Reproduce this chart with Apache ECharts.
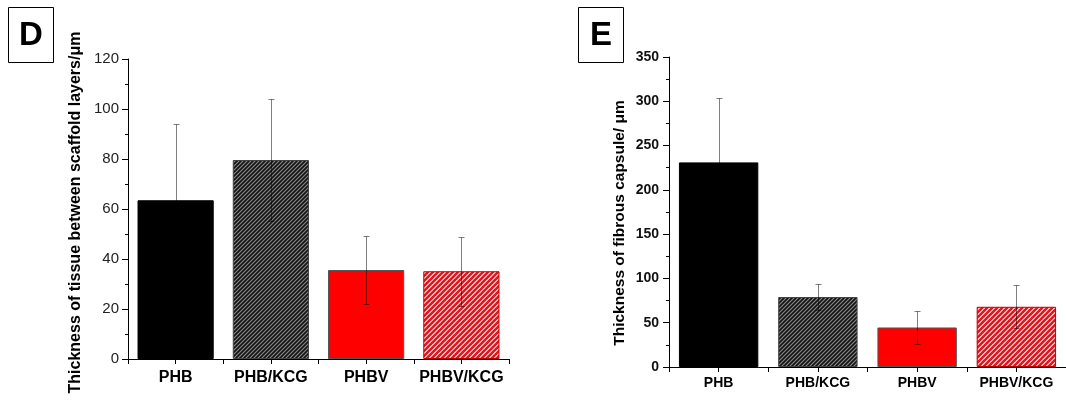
<!DOCTYPE html>
<html>
<head>
<meta charset="utf-8">
<script src="https://cdn.jsdelivr.net/npm/echarts@6/dist/echarts.min.js"></script>
<style>
html,body{margin:0;padding:0;background:#fff;}
#c{width:1066px;height:403px;}
</style>
</head>
<body>
<div id="c"></div>
<script>
// ---- data ----
const categories = ['PHB', 'PHB/KCG', 'PHBV', 'PHBV/KCG'];
const tissueMean = [63.5, 79.6, 35.6, 35.1];
const tissueSD = [30.4, 24.5, 13.7, 13.7];
const capsuleMean = [231, 79, 44.6, 68];
const capsuleSD = [73, 15, 18.5, 24.5];
const tissueTicks = { min: 0, max: 120, interval: 20 };
const capsuleTicks = { min: 0, max: 350, interval: 50 };

// ---- styles ----
function hatch(bg, fg, p, w) {
  const c = document.createElement('canvas');
  c.width = p; c.height = p;
  const ctx = c.getContext('2d');
  ctx.fillStyle = bg; ctx.fillRect(0, 0, p, p);
  ctx.strokeStyle = fg; ctx.lineWidth = w;
  ctx.beginPath();
  ctx.moveTo(-1, 1); ctx.lineTo(1, -1);
  ctx.moveTo(0, p); ctx.lineTo(p, 0);
  ctx.moveTo(p - 1, p + 1); ctx.lineTo(p + 1, p - 1);
  ctx.stroke();
  return { image: c, repeat: 'repeat' };
}
const fills = [
  { color: '#000000', borderColor: '#000', borderWidth: 1 },
  { color: hatch('#151515', '#8a8a8a', 4, 1.1), borderColor: '#444', borderWidth: 1 },
  { color: '#ff0000', borderColor: '#555', borderWidth: 1 },
  { color: hatch('#ffffff', '#e8141c', 5, 2.6), borderColor: '#b00', borderWidth: 1 }
];
const FONT = 'Liberation Sans, Arial, sans-serif';

function barData(vals) {
  return vals.map((v, i) => ({ value: v, itemStyle: fills[i] }));
}
function errData(mean, sd) {
  return mean.map((m, i) => [i, m - sd[i], m + sd[i]]);
}
function renderErr(params, api) {
  const x = api.value(0);
  const lo = api.coord([x, api.value(1)]);
  const hi = api.coord([x, api.value(2)]);
  const cx = Math.round(lo[0]) + 0.5;
  const yl = Math.round(lo[1]) + 0.5, yh = Math.round(hi[1]) + 0.5;
  const st = { stroke: 'rgba(0,0,0,0.5)', lineWidth: 1 };
  return {
    type: 'group',
    children: [
      { type: 'line', shape: { x1: cx, y1: yl, x2: cx, y2: yh }, style: st },
      { type: 'line', shape: { x1: cx - 3, y1: yh, x2: cx + 3, y2: yh }, style: st },
      { type: 'line', shape: { x1: cx - 3, y1: yl, x2: cx + 3, y2: yl }, style: st }
    ]
  };
}

function xAxes(gi, fs, margin) {
  return [
    {
      type: 'category', gridIndex: gi, data: categories,
      axisLine: { lineStyle: { color: '#000', width: 1 } },
      axisTick: { show: true, interval: 0, inside: false, length: 5, lineStyle: { color: '#000' } },
      axisLabel: { interval: 0, color: '#000', fontWeight: 'bold', fontSize: fs, fontFamily: FONT, margin: margin },
      splitLine: { show: false }
    },
    {
      type: 'category', gridIndex: gi, data: categories, position: 'bottom',
      axisLine: { show: false },
      axisTick: { show: true, interval: 0, alignWithLabel: true, length: 5, lineStyle: { color: '#000' } },
      axisLabel: { show: false },
      splitLine: { show: false }
    }
  ];
}

const option = {
  animation: false,
  backgroundColor: '#fff',
  grid: [
    { left: 128, top: 59, width: 381, height: 300 },
    { left: 669, top: 57, width: 400, height: 310 }
  ],
  xAxis: [...xAxes(0, 16, 11), ...xAxes(1, 14, 9)],
  yAxis: [
    {
      type: 'value', gridIndex: 0, ...tissueTicks,
      name: 'Thickness of tissue between scaffold layers/\u03bcm',
      nameLocation: 'middle', nameRotate: 90, nameGap: 44,
      nameTextStyle: { color: '#000', fontWeight: 'bold', fontSize: 16, fontFamily: FONT, padding: [0, 7, 0, 0] },
      axisLine: { show: true, lineStyle: { color: '#000', width: 1 } },
      axisTick: { show: true, length: 6, lineStyle: { color: '#000' } },
      minorTick: { show: true, splitNumber: 2, length: 3, lineStyle: { color: '#000' } },
      axisLabel: { color: '#222', fontSize: 15, fontFamily: FONT, margin: 9 },
      splitLine: { show: false }
    },
    {
      type: 'value', gridIndex: 1, ...capsuleTicks,
      name: 'Thickness of fibrous capsule/ \u03bcm',
      nameLocation: 'middle', nameRotate: 90, nameGap: 41,
      nameTextStyle: { color: '#000', fontWeight: 'bold', fontSize: 15.5, fontFamily: FONT, padding: [0, 22, 0, 0] },
      axisLine: { show: true, lineStyle: { color: '#000', width: 1 } },
      axisTick: { show: true, length: 6, lineStyle: { color: '#000' } },
      minorTick: { show: true, splitNumber: 2, length: 3, lineStyle: { color: '#000' } },
      axisLabel: { color: '#111', fontWeight: 'bold', fontSize: 14, fontFamily: FONT, margin: 10 },
      splitLine: { show: false }
    }
  ],
  series: [
    { type: 'bar', xAxisIndex: 0, yAxisIndex: 0, barWidth: '80%', data: barData(tissueMean), z: 2 },
    { type: 'custom', xAxisIndex: 0, yAxisIndex: 0, renderItem: renderErr, data: errData(tissueMean, tissueSD), z: 5 },
    { type: 'bar', xAxisIndex: 2, yAxisIndex: 1, barWidth: '80%', data: barData(capsuleMean), z: 2 },
    { type: 'custom', xAxisIndex: 2, yAxisIndex: 1, renderItem: renderErr, data: errData(capsuleMean, capsuleSD), z: 5 }
  ],
  graphic: [
    { type: 'rect', shape: { x: 8.5, y: 7.5, width: 45, height: 55 }, style: { fill: '#fff', stroke: '#000', lineWidth: 1 } },
    { type: 'text', x: 31, y: 36, style: { text: 'D', font: 'bold 33px ' + FONT, fill: '#000', align: 'center', verticalAlign: 'middle' } },
    { type: 'rect', shape: { x: 578.5, y: 7.5, width: 45, height: 55 }, style: { fill: '#fff', stroke: '#000', lineWidth: 1 } },
    { type: 'text', x: 601, y: 36, style: { text: 'E', font: 'bold 33px ' + FONT, fill: '#000', align: 'center', verticalAlign: 'middle' } }
  ]
};
const chart = echarts.init(document.getElementById('c'), null, { renderer: 'canvas' });
chart.setOption(option);
</script>
</body>
</html>
